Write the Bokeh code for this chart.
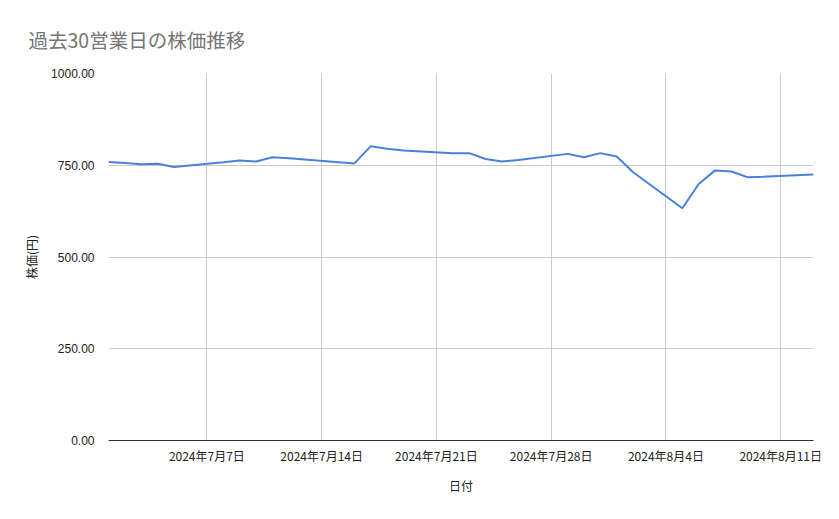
import pandas as pd
from bokeh.plotting import figure
from bokeh.models import Range1d, FixedTicker, CustomJSTickFormatter, NumeralTickFormatter
from bokeh.embed import file_html
from bokeh.resources import INLINE

# ---- data ----
dates = ["2024-07-01", "2024-07-02", "2024-07-03", "2024-07-04", "2024-07-05",
         "2024-07-08", "2024-07-09", "2024-07-10", "2024-07-11", "2024-07-12",
         "2024-07-16", "2024-07-17", "2024-07-18", "2024-07-19",
         "2024-07-22", "2024-07-23", "2024-07-24", "2024-07-25", "2024-07-26",
         "2024-07-29", "2024-07-30", "2024-07-31", "2024-08-01", "2024-08-02",
         "2024-08-05", "2024-08-06", "2024-08-07", "2024-08-08", "2024-08-09",
         "2024-08-13"]
prices = [759, 756, 753, 754, 745,
          758, 763, 760, 772, 769,
          755, 802, 795, 790,
          783, 783, 767, 760, 764,
          781, 772, 783, 774, 731,
          633, 699, 736, 733, 717,
          725]
tick_dates = ["2024-07-07", "2024-07-14", "2024-07-21", "2024-07-28", "2024-08-04", "2024-08-11"]
tick_labels = ["2024年7月7日", "2024年7月14日", "2024年7月21日", "2024年7月28日", "2024年8月4日", "2024年8月11日"]
y_ticks = [0, 250, 500, 750, 1000]

title = "過去30営業日の株価推移"
x_label = "日付"
y_label = "株価(円)"

x = pd.to_datetime(dates)
tick_ms = [float(pd.Timestamp(d).value // 10**6) for d in tick_dates]

p = figure(width=823, height=503, output_backend="svg", toolbar_location=None,
           x_axis_type="datetime",
           x_range=Range1d(x[0], x[-1]), y_range=Range1d(0, 1000),
           min_border_left=108, min_border_right=10, min_border_top=73, min_border_bottom=63)

p.outline_line_color = None
p.background_fill_color = "white"
p.border_fill_color = "white"

p.title.text = title
p.title.align = "left"
p.title.vertical_align = "bottom"
p.title.offset = -80
p.title.standoff = 40
p.title.text_line_height = 1.6
p.title.text_font = "Noto Sans CJK JP"
p.title.text_font_size = "19.5px"
p.title.text_font_style = "normal"
p.title.text_color = "#757575"

p.line(x, prices, line_color="#4a80dd", line_width=2)

# axes
p.xaxis.ticker = FixedTicker(ticks=tick_ms)
p.xaxis.formatter = CustomJSTickFormatter(args=dict(tick_vals=tick_ms, tick_texts=tick_labels),
                                          code="const i = tick_vals.indexOf(tick); return i >= 0 ? tick_texts[i] : '';")
p.yaxis.ticker = FixedTicker(ticks=y_ticks)
p.yaxis.formatter = NumeralTickFormatter(format="0.00")

for ax in (p.xaxis[0], p.yaxis[0]):
    ax.major_tick_line_color = None
    ax.minor_tick_line_color = None
    ax.major_label_text_font_size = "12px"
    ax.major_label_text_color = "#222222"
    ax.axis_label_text_font = "Noto Sans CJK JP"
    ax.axis_label_text_font_size = "12px"
    ax.axis_label_text_font_style = "normal"
    ax.axis_label_text_color = "#222222"

p.xaxis.axis_label = x_label
p.xaxis.major_label_text_font = "Noto Sans CJK JP"
p.xaxis.axis_line_color = "#333333"
p.xaxis.major_label_standoff = 0
p.xaxis.axis_label_standoff = 10

p.yaxis.axis_label = y_label
p.yaxis.major_label_text_font = "Liberation Sans"
p.yaxis.axis_line_color = None
p.yaxis.major_label_standoff = 8
p.yaxis.axis_label_standoff = 8

p.xgrid.grid_line_color = "#cccccc"
p.ygrid.grid_line_color = "#cccccc"

open("out.html", "w").write(file_html(p, INLINE))
